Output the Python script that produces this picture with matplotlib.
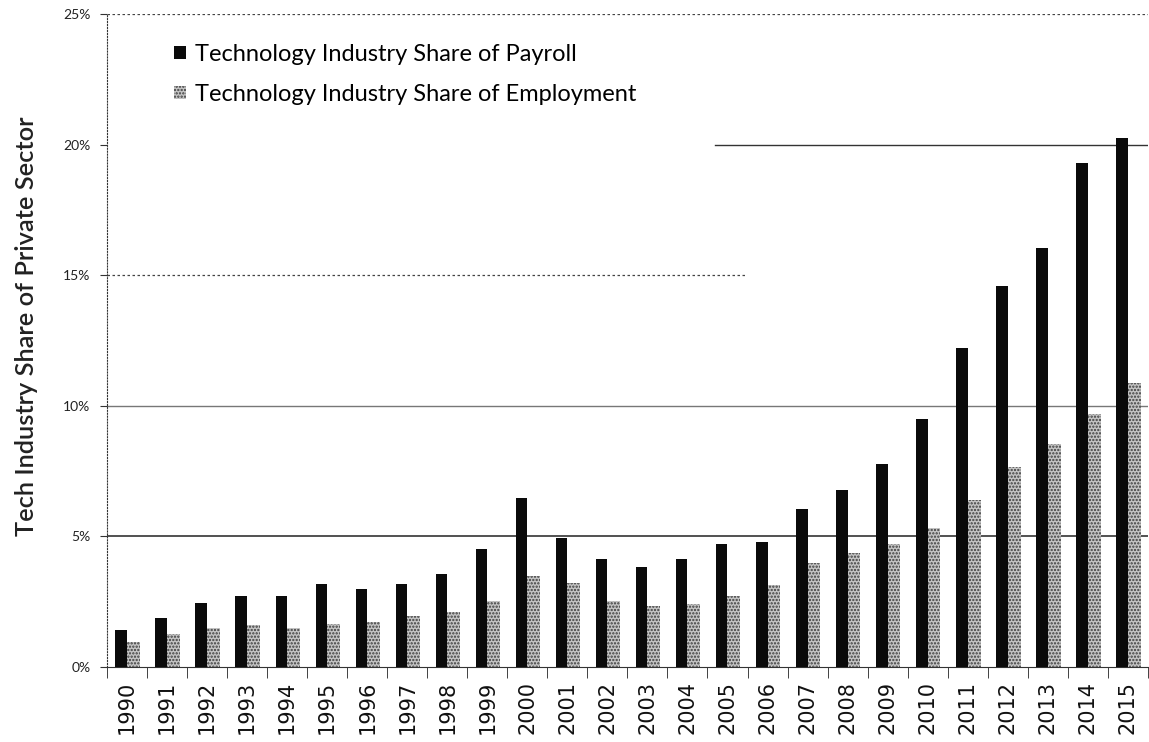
import matplotlib.pyplot as plt
import numpy as np
from matplotlib.ticker import FuncFormatter, FixedLocator

# values (percent of private sector)
years = [str(y) for y in range(1990, 2016)]
payroll = [1.40, 1.88, 2.45, 2.72, 2.71, 3.19, 3.00, 3.18, 3.55, 4.53,
           6.48, 4.95, 4.12, 3.84, 4.12, 4.70, 4.77, 6.06, 6.78, 7.76,
           9.48, 12.20, 14.57, 16.03, 19.30, 20.27]
employment = [0.94, 1.25, 1.49, 1.60, 1.49, 1.63, 1.72, 1.94, 2.11, 2.53,
              3.50, 3.20, 2.54, 2.32, 2.41, 2.71, 3.14, 3.97, 4.35, 4.72,
              5.34, 6.39, 7.65, 8.52, 9.67, 10.89]

PAYROLL_LABEL = "Technology Industry Share of Payroll"
EMPLOYMENT_LABEL = "Technology Industry Share of Employment"

plt.rcParams['hatch.color'] = '#3c3c3c'
plt.rcParams['hatch.linewidth'] = 1.1

fig = plt.figure(figsize=(11.49, 7.42), dpi=100)
ax = fig.add_axes([0.0931, 0.1011, 0.9059, 0.880])

x = np.arange(len(years))
ax.bar(x - 0.145, payroll, width=0.29, color='#0a0a0a', label=PAYROLL_LABEL, zorder=3)
ax.bar(x + 0.16, employment, width=0.32, color='#c4c4c4', hatch='.....',
       edgecolor='#3c3c3c', linewidth=0, label=EMPLOYMENT_LABEL, zorder=3)

ax.set_xlim(-0.5, len(years) - 0.5)
ax.set_ylim(0, 25)

# gridlines: the scan shows a mix of solid, dotted and broken lines
ax.axhline(5, color='#222222', linestyle='-', linewidth=1.1, zorder=1)
ax.axhline(10, color='#777777', linestyle='-', linewidth=1.0, zorder=1)
ax.axhline(15, xmin=0.0, xmax=0.613, color='#444444', linestyle=(0, (2, 2)), linewidth=0.9, zorder=1)
ax.axhline(20, xmin=0.584, xmax=1.0, color='#333333', linestyle='-', linewidth=1.0, zorder=1)
ax.axhline(25, color='#444444', linestyle=(0, (2, 2)), linewidth=0.9, zorder=1)

ax.set_yticks(np.arange(0, 26, 5))
ax.yaxis.set_major_formatter(FuncFormatter(lambda v, p: f"{int(v)}%"))
ax.tick_params(axis='y', labelsize=10, length=5, pad=7, color='#333333', labelcolor='#222222')
for lbl in ax.get_yticklabels():
    lbl.set_family('Lato')

ax.set_xticks(x)
ax.set_xticklabels(years, rotation=90, fontsize=15, family='DejaVu Sans', color='#111111')
ax.tick_params(axis='x', which='major', length=0, pad=10)
ax.xaxis.set_minor_locator(FixedLocator(np.arange(-0.5, len(years), 1.0)))
ax.tick_params(axis='x', which='minor', length=8, color='#222222')

for side in ['top', 'right']:
    ax.spines[side].set_visible(False)
ax.spines['left'].set_linestyle(':')
ax.spines['left'].set_color('#333333')
ax.spines['bottom'].set_color('#333333')

ax.set_ylabel("Tech Industry Share of Private Sector", fontsize=18.3, family='Lato',
              fontweight='semibold', color='#222222')
ax.yaxis.set_label_coords(-0.066, 0.522)

ax.legend(loc='upper left', bbox_to_anchor=(0.0644, 0.954), frameon=False,
          prop={'family': 'Lato', 'size': 17}, handlelength=0.5, handleheight=0.5,
          handletextpad=0.38, labelspacing=0.79, borderpad=0, borderaxespad=0)

plt.savefig('out.png', dpi=100)
